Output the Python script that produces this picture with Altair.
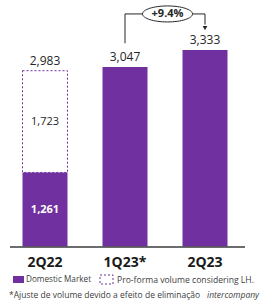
import altair as alt
import pandas as pd

quarters = ["2Q22", "1Q23*", "2Q23"]
domestic = [1261, 3047, 3333]
totals = [2983, 3047, 3333]
proforma_extra = [1723, None, None]
growth_label = "+9.4%"

PURPLE = "#7030A0"
FONT = "Open Sans"

bars = pd.DataFrame({"q": quarters, "dom": domestic, "total": totals})
extra = pd.DataFrame({"q": [quarters[0]], "lo": [domestic[0]], "hi": [totals[0]],
                      "mid": [domestic[0] + proforma_extra[0] / 2],
                      "lab": [f"{proforma_extra[0]:,}"]})
inner = pd.DataFrame({"q": [quarters[0]], "mid": [domestic[0] / 2], "lab": [f"{domestic[0]:,}"]})
bars["lab"] = [f"{v:,}" for v in totals]

# growth bracket levels (data units)
start_lvl = totals[1] + 400
top_lvl = totals[2] + 610
end_lvl = totals[2] + 430
bracket = pd.DataFrame({"q": [quarters[1], quarters[1], quarters[2], quarters[2]],
                        "v": [start_lvl, top_lvl, top_lvl, end_lvl],
                        "i": [0, 1, 2, 3]})
ell = pd.DataFrame({"q": [quarters[1]], "v": [top_lvl], "lab": [growth_label]})
arrow = pd.DataFrame({"q": [quarters[2]], "v": [end_lvl - 60]})

xs = alt.Scale(domain=quarters, range=[5, 245], paddingInner=0.4375, paddingOuter=0.21875)
ys = alt.Scale(domain=[0, 4179], range=[247, 0])

X = lambda bp=None: (alt.X("q:N", scale=xs, axis=None, sort=quarters) if bp is None
                     else alt.X("q:N", scale=xs, axis=None, sort=quarters, bandPosition=bp))

dashed = alt.Chart(extra).mark_bar(fill="white", stroke=PURPLE, strokeDash=[2, 2],
                                   strokeWidth=1).encode(
    x=X(), y=alt.Y("lo:Q", scale=ys, axis=None), y2="hi:Q")

filled = alt.Chart(bars).mark_bar(color=PURPLE).encode(
    x=X(), y=alt.Y("dom:Q", scale=ys, axis=None))

top_lab = alt.Chart(bars).mark_text(font=FONT, fontSize=12, baseline="bottom", dy=-3,
                                    color="#262626").encode(
    x=X(0.5), y=alt.Y("total:Q", scale=ys), text="lab:N")

mid_lab = alt.Chart(extra).mark_text(font=FONT, fontSize=11, color="#262626").encode(
    x=X(0.5), y=alt.Y("mid:Q", scale=ys), text="lab:N")

in_lab = alt.Chart(inner).mark_text(font=FONT, fontSize=11, fontWeight="bold",
                                    color="white").encode(
    x=X(0.5), y=alt.Y("mid:Q", scale=ys), text="lab:N")

baseline = alt.Chart(bars).mark_rule(color="#595959", strokeWidth=1).encode(
    x=alt.value(10), x2=alt.value(245), y=alt.value(247))

xlab = alt.Chart(bars).mark_text(font=FONT, fontSize=14, fontWeight="bold",
                                 color="#1a1a1a").encode(
    x=X(0.5), y=alt.value(263), text="q:N")

br_line = alt.Chart(bracket).mark_line(color="#262626", strokeWidth=1).encode(
    x=X(0.5), y=alt.Y("v:Q", scale=ys), order="i:Q")

# ellipse drawn 0.8 units (20px at size 2500) to the right of the anchor
ellipse_path = ("M -0.2 0 C -0.2 -0.1767 0.2477 -0.32 0.8 -0.32 C 1.3523 -0.32 1.8 -0.1767 1.8 0 "
                "C 1.8 0.1767 1.3523 0.32 0.8 0.32 C 0.2477 0.32 -0.2 0.1767 -0.2 0 Z")
ell_mark = alt.Chart(ell).mark_point(shape=ellipse_path, size=2500, filled=True,
                                     fill="white", stroke="#262626", strokeWidth=1,
                                     opacity=1).encode(
    x=X(1.0), y=alt.Y("v:Q", scale=ys))
ell_text = alt.Chart(ell).mark_text(font=FONT, fontSize=11, fontWeight="bold",
                                    color="#262626", dx=20).encode(
    x=X(1.0), y=alt.Y("v:Q", scale=ys), text="lab:N")
arrow_mark = alt.Chart(arrow).mark_point(shape="triangle-down", size=22, filled=True,
                                         color="#262626", opacity=1).encode(
    x=X(0.5), y=alt.Y("v:Q", scale=ys))

# legend
leg_df = pd.DataFrame({"k": [0]})
leg_sq = alt.Chart(leg_df).mark_rect(color=PURPLE).encode(
    x=alt.value(13), x2=alt.value(24), y=alt.value(276), y2=alt.value(283))
leg_t1 = alt.Chart(leg_df).mark_text(font=FONT, fontSize=8.2, align="left",
                                     color="#404040").encode(
    x=alt.value(26), y=alt.value(280), text=alt.value("Domestic Market"))
leg_box = alt.Chart(leg_df).mark_rect(fill="white", stroke=PURPLE, strokeDash=[2, 2],
                                      strokeWidth=1).encode(
    x=alt.value(100), x2=alt.value(113), y=alt.value(275), y2=alt.value(284))
leg_t2 = alt.Chart(leg_df).mark_text(font=FONT, fontSize=8.6, align="left",
                                     color="#404040").encode(
    x=alt.value(117), y=alt.value(280), text=alt.value("Pro-forma volume considering LH."))
foot1 = alt.Chart(leg_df).mark_text(font=FONT, fontSize=8.5, align="left",
                                    color="#404040").encode(
    x=alt.value(9), y=alt.value(295),
    text=alt.value("*Ajuste de volume devido a efeito de eliminação"))
foot2 = alt.Chart(leg_df).mark_text(font=FONT, fontSize=8.5, align="left", fontStyle="italic",
                                    color="#404040").encode(
    x=alt.value(207), y=alt.value(295), text=alt.value("intercompany"))

chart = alt.layer(
    dashed, filled, top_lab, mid_lab, in_lab, baseline, xlab,
    br_line, ell_mark, ell_text, arrow_mark,
    leg_sq, leg_t1, leg_box, leg_t2, foot1, foot2
).properties(
    width=273, height=307, padding=0,
    autosize=alt.AutoSizeParams(type="none"),
    background="white"
).configure_view(stroke=None)

chart.save("out.html", embed_options={"renderer": "svg", "actions": False})
